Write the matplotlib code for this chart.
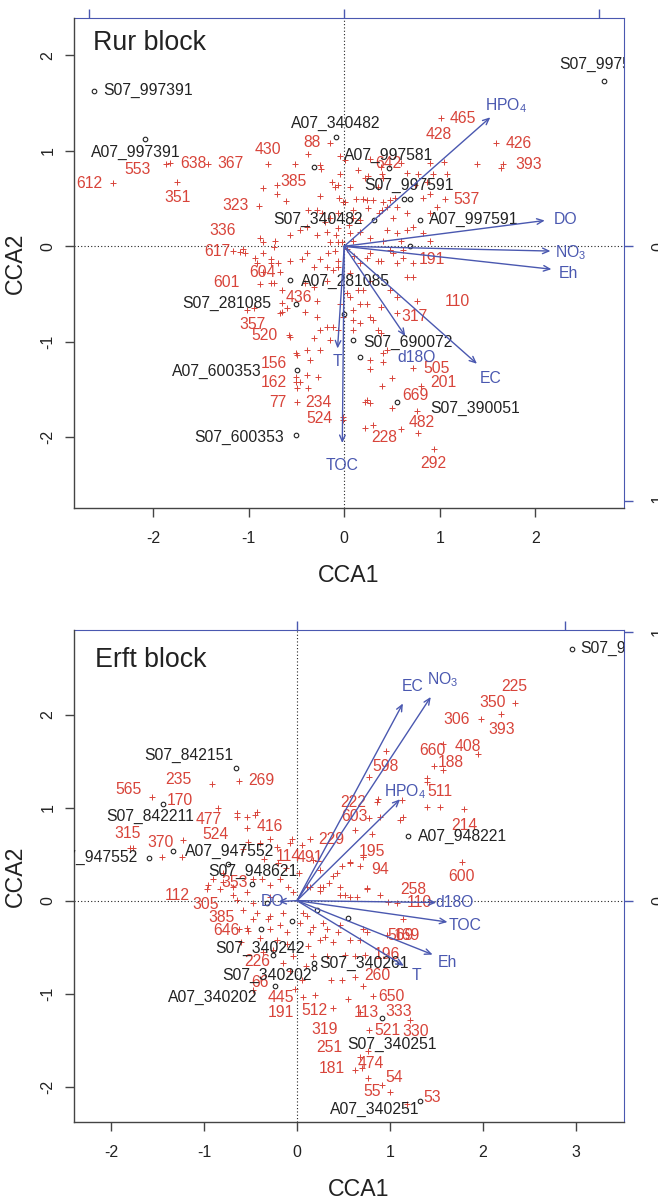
import matplotlib
matplotlib.use("Agg")
import matplotlib.pyplot as plt

plt.rcParams['font.family'] = ['Liberation Sans', 'DejaVu Sans']
plt.rcParams['mathtext.fontset'] = 'custom'
plt.rcParams['mathtext.rm'] = 'Liberation Sans'
plt.rcParams['mathtext.it'] = 'Liberation Sans:italic'
plt.rcParams['mathtext.bf'] = 'Liberation Sans:bold'

RED = '#d8443a'
BLUE = '#4a58b0'
DARK = '#222222'
AXC = '#444444'

# ------------------------------------------------------------------ Rur block
rur_plus = [
    (-2.42, 0.66), (-1.87, 0.86), (-1.82, 0.87), (-1.43, 0.86), (-1.75, 0.67), (-0.80, 0.86), (-0.52, 0.86),
    (-0.15, 1.08), (-0.04, 0.94), (-0.24, 0.81), (-0.85, 0.61), (-0.70, 0.55), (-0.61, 0.47), (-0.13, 0.67),
    (-0.10, 0.62), (-0.05, 0.51), (-0.01, 0.46), (-0.89, 0.42), (-0.39, 0.20), (-0.88, 0.09), (-0.85, 0.04),
    (-0.74, -0.01), (-1.16, -0.05), (-1.06, -0.03), (-1.04, -0.07), (-0.38, 0.97), (-0.25, 0.85), (-0.70, 0.64),
    (-0.25, 0.53), (0.01, 0.46), (-0.38, 0.38), (-0.28, 0.38), (-0.23, 0.35), (0.14, 0.80), (0.22, 0.72),
    (0.24, 0.48), (0.30, 0.48), (0.41, 0.46), (0.25, 0.40), (0.36, 0.35), (0.40, 0.76), (0.45, 0.41),
    (0.53, 0.51), (-0.72, 0.06), (-0.57, 0.12), (-0.46, 0.17), (-0.28, 0.12), (-0.18, 0.15), (-0.09, 0.12),
    (-0.06, 0.19), (-0.15, 0.04), (-0.07, 0.04), (-1.09, -0.06), (-0.93, -0.12), (-0.77, -0.13), (-0.69, -0.18),
    (-0.57, -0.15), (-0.44, -0.13), (-0.39, -0.07), (-0.25, -0.13), (-0.17, -0.07), (-0.07, -0.15), (-0.32, -0.22),
    (-0.18, -0.22), (0.09, 0.06), (0.17, 0.15), (0.27, 0.09), (0.24, -0.12), (0.35, -0.15), (0.45, 0.17),
    (0.48, -0.04), (0.55, -0.17), (0.17, 0.27), (0.09, 0.38), (1.01, 1.34), (1.59, 1.08), (1.66, 0.86),
    (1.64, 0.82), (1.39, 0.86), (0.27, 0.91), (0.25, 0.74), (0.38, 0.83), (0.59, 0.87), (0.66, 0.77),
    (0.77, 0.76), (0.90, 0.87), (1.04, 0.88), (1.08, 0.76), (0.93, 0.76), (0.87, 0.67), (0.74, 0.64),
    (0.90, 0.55), (0.82, 0.51), (1.06, 0.49), (0.97, 0.41), (0.90, 0.35), (0.41, 0.72), (0.35, 0.62),
    (0.20, 0.50), (0.48, 0.48), (0.55, 0.41), (0.40, 0.38), (0.51, 0.30), (0.66, 0.35), (0.72, 0.20),
    (0.66, 0.17), (0.55, 0.14), (0.41, 0.06), (0.59, 0.06), (0.83, 0.14), (0.90, 0.06), (0.51, -0.07),
    (0.62, -0.12), (0.72, -0.17), (0.38, -0.15), (0.27, -0.07), (0.06, 0.14), (-0.07, 0.35), (0.09, 0.30),
    (0.06, 0.62), (-0.07, 0.64), (0.01, 0.90), (-0.04, 0.76), (0.62, -0.04), (0.66, -0.32), (0.72, -0.32),
    (0.76, -0.57), (0.55, -0.70), (0.30, -0.77), (0.35, -0.88), (0.17, -0.80), (0.09, -0.88), (0.41, -1.12),
    (0.41, -1.21), (0.27, -1.28), (0.50, -1.38), (0.40, -1.46), (0.80, -1.46), (0.72, -1.27), (0.22, -1.63),
    (0.27, -1.64), (0.50, -1.69), (0.76, -1.72), (0.22, -1.90), (0.59, -1.91), (0.77, -1.96), (0.94, -2.12),
    (-0.01, -1.82), (-0.07, -0.22), (0.06, -0.28), (0.17, -0.18), (0.27, -0.36), (0.20, -0.46), (0.06, -0.53),
    (-0.04, -0.60), (0.09, -0.67), (0.24, -0.60), (0.38, -0.64), (0.48, -0.46), (0.55, -0.53), (-0.01, -0.74),
    (-0.07, -0.88), (-0.77, -0.18), (-0.85, -0.27), (-0.67, -0.27), (-0.77, -0.38), (-0.65, -0.46), (-0.41, -0.38),
    (-0.32, -0.43), (-0.18, -0.36), (-0.12, -0.25), (-0.28, -0.57), (-0.41, -0.69), (-0.28, -0.74), (-0.18, -0.85),
    (-0.25, -0.88), (-0.12, -0.85), (-0.15, -0.98), (-0.32, -0.96), (-0.39, -1.09), (-0.36, -1.19), (-0.25, -1.09),
    (-0.49, -1.14), (-0.57, -0.95), (-0.67, -0.70), (-0.60, -0.65), (-0.46, -1.42), (-0.49, -1.48), (-0.38, -1.48),
    (-0.49, -1.63), (-0.01, -1.79), (0.09, -0.77), (0.17, -0.60), (0.27, -0.74), (0.38, -0.91), (0.45, -1.09),
    (0.27, -1.19), (0.24, -1.61), (0.30, -1.87), (0.03, -0.49), (0.14, -0.46), (-0.85, -0.07), (-0.91, -0.18),
    (-0.74, -0.38), (-0.88, -0.39), (-1.02, -0.67), (-0.95, -0.65), (-0.65, -0.59), (-0.65, -0.69), (-0.58, -0.93),
    (-0.51, -1.12), (-0.51, -1.37), (-0.51, -1.42), (-0.39, -1.35), (-0.27, -1.37), (-0.02, 0.05), (0.03, -0.03),
    (-0.10, -0.05), (0.10, -0.10), (0.05, 0.22), (-0.20, 0.25), (0.12, 0.50), (-0.15, 0.30),
]
rur_sp_names = ['612', '553', '638', '367', '351', '430', '88', '385', '323', '336', '617', '601', '604',
                '436', '357', '520', '156', '162', '77', '234', '524', '465', '428', '426', '393', '642',
                '537', '191', '110', '317', '505', '201', '669', '482', '228', '292']
rur_sp_x = [-2.67, -2.16, -1.58, -1.19, -1.75, -0.80, -0.34, -0.53, -1.14, -1.27, -1.33, -1.23, -0.86,
            -0.47, -0.96, -0.83, -0.74, -0.74, -0.69, -0.27, -0.26, 1.24, 0.99, 1.83, 1.93, 0.46,
            1.28, 0.92, 1.18, 0.74, 0.97, 1.04, 0.75, 0.81, 0.42, 0.93]
rur_sp_y = [0.66, 0.80, 0.87, 0.87, 0.51, 1.01, 1.09, 0.68, 0.43, 0.17, -0.05, -0.38, -0.27,
            -0.54, -0.82, -0.93, -1.23, -1.43, -1.64, -1.64, -1.80, 1.34, 1.17, 1.08, 0.86, 0.87,
            0.49, -0.14, -0.58, -0.73, -1.28, -1.43, -1.56, -1.85, -2.00, -2.27]

rur_site_x = [-2.62, -2.09, -0.09, -0.32, 0.47, 0.63, 0.69, 0.31, 0.79, 0.69, 2.72, -0.57, -0.51,
              0.00, 0.09, 0.16, -0.49, 0.55, -0.51]
rur_site_y = [1.63, 1.12, 1.14, 0.83, 0.82, 0.49, 0.49, 0.28, 0.28, 0.00, 1.73, -0.35, -0.60,
              -0.71, -0.98, -1.16, -1.29, -1.63, -1.98]
rur_sitelab_names = ['S07_997391', 'A07_997391', 'A07_340482', 'A07_997581', 'S07_997591', 'S07_340482',
                     'A07_997591', 'S07_997581', 'A07_281085', 'S07_281085', 'S07_690072', 'A07_600353',
                     'S07_390051', 'S07_600353']
rur_sitelab_x = [-2.05, -2.18, -0.09, 0.46, 0.68, -0.27, 1.36, 2.72, 0.01, -1.23, 0.67, -1.33, 1.37, -1.10]
rur_sitelab_y = [1.63, 0.98, 1.29, 0.95, 0.64, 0.28, 0.28, 1.90, -0.37, -0.60, -1.01, -1.31, -1.70, -2.00]

rur_env_names = ['HPO$_{4}$', 'DO', 'NO$_{3}$', 'Eh', 'EC', 'd18O', 'T', 'TOC']
rur_env_x = [1.53, 2.10, 2.16, 2.17, 1.39, 0.64, -0.07, -0.02]
rur_env_y = [1.35, 0.27, -0.05, -0.24, -1.23, -0.94, -1.07, -2.06]
rur_envlab_x = [1.69, 2.32, 2.37, 2.35, 1.53, 0.76, -0.07, -0.02]
rur_envlab_y = [1.47, 0.28, -0.07, -0.28, -1.38, -1.16, -1.21, -2.29]

# ------------------------------------------------------------------ Erft block
erft_plus = [
    (-0.92, 1.25), (-0.62, 1.29), (-1.56, 1.11), (-0.85, 1.00), (-0.65, 0.90), (-0.54, 0.90), (-0.45, 0.92),
    (-0.54, 0.78), (-1.23, 0.65), (-1.80, 0.57), (-1.76, 0.57), (-1.45, 0.47), (-1.24, 0.47), (-0.05, 0.66),
    (0.05, 0.60), (0.14, 0.66), (-0.65, 0.94), (-0.43, 0.95), (-0.53, 0.63), (-0.40, 0.62), (-0.29, 0.66),
    (-0.22, 0.58), (-0.08, 0.62), (-0.58, 0.55), (-0.80, 0.30), (-0.90, 0.23), (-0.96, 0.17), (-0.83, 0.12),
    (-0.69, 0.06), (-0.54, 0.09), (-0.38, 0.23), (-0.29, 0.17), (-0.18, 0.23), (-0.10, 0.15), (-0.04, 0.09),
    (-0.29, 0.04), (-0.47, -0.02), (-0.58, -0.10), (-0.43, -0.13), (-0.29, -0.17), (-0.15, -0.13), (-0.18, -0.26),
    (-0.29, -0.31), (-0.54, -0.29), (-0.47, -0.20), (-0.11, -0.34), (0.03, -0.24), (0.14, -0.34), (0.28, -0.24),
    (0.06, -0.13), (-0.62, -0.31), (-0.53, -0.33), (-0.26, -0.53), (-0.11, -0.47), (-0.04, -0.60), (-0.15, -0.67),
    (-0.08, -0.76), (-0.47, -0.96), (0.06, -1.04), (0.19, -1.01), (-0.37, -0.55), (-0.31, -0.20), (-0.69, 0.15),
    (-0.47, 0.23), (-0.65, 0.01), (-0.97, 0.12), (-0.80, 0.20), (0.17, -0.28), (0.25, -0.42), (0.12, -0.49),
    (0.17, -0.60), (0.14, 0.15), (0.28, 0.15), (0.46, 0.06), (0.57, 0.04), (0.75, 0.12), (0.89, 0.06),
    (1.08, -0.03), (0.98, -0.01), (1.14, -0.20), (0.30, -0.39), (0.44, -0.34), (0.57, -0.42), (0.68, -0.42),
    (0.71, -0.31), (0.97, -0.37), (0.32, -0.60), (0.52, -0.58), (0.62, -0.60), (0.73, -0.58), (0.62, -0.82),
    (0.37, -0.85), (0.48, -0.85), (0.71, -0.92), (0.82, -1.03), (0.55, -1.06), (0.39, -1.15), (0.68, -1.20),
    (1.22, -1.28), (0.78, -1.39), (0.76, -1.62), (0.68, -1.68), (0.62, -1.82), (0.70, -1.80), (0.76, -1.91),
    (0.92, -1.98), (1.00, -2.06), (1.18, -2.19), (0.96, 1.61), (0.78, 1.33), (0.87, 1.09), (0.89, 0.90),
    (0.77, 0.89), (0.62, 0.76), (0.81, 0.72), (0.71, 0.47), (0.57, 0.42), (0.68, 0.37), (0.49, 0.37),
    (0.43, 0.30), (0.35, 0.19), (0.25, 0.15), (0.75, 0.14), (0.52, 0.06), (1.40, 1.32), (1.40, 1.28),
    (1.40, 1.01), (1.54, 1.01), (1.80, 0.99), (1.78, 0.42), (1.95, 1.58), (1.47, 1.45), (1.57, 1.40),
    (1.57, 1.68), (1.98, 1.95), (2.20, 2.01), (2.35, 2.13), (1.13, 1.08), (1.11, 0.87), (1.14, 0.90),
    (0.86, 1.06), (0.17, 0.44), (0.25, 0.33), (0.39, 0.26), (0.57, 0.41), (0.46, 0.15), (0.11, 0.15),
    (0.25, 0.10), (0.65, 0.04), (0.11, -0.17), (0.32, -0.31), (0.46, -0.26), (0.39, -0.44), (0.75, -0.34),
    (-0.20, 0.40), (-0.35, 0.45), (-0.12, 0.35), (0.02, 0.30), (-0.60, -0.45), (-0.40, -0.40), (-0.22, -0.42),
    (0.05, -0.85), (-0.02, -0.95), (0.10, -0.70),
]
erft_sp_names = ['235', '269', '565', '170', '477', '416', '315', '370', '524', '114', '491', '353', '112',
                 '305', '385', '646', '226', '66', '445', '191', '512', '319', '251', '181', '474', '54',
                 '55', '53', '650', '113', '333', '521', '330', '260', '196', '569', '169', '258', '110',
                 '600', '94', '195', '229', '603', '222', '598', '511', '214', '188', '660', '408', '306',
                 '393', '350', '225']
erft_sp_x = [-1.28, -0.38, -1.81, -1.26, -0.95, -0.29, -1.82, -1.47, -0.88, -0.09, 0.14, -0.67, -1.29,
             -0.98, -0.81, -0.76, -0.43, -0.40, -0.17, -0.17, 0.19, 0.30, 0.35, 0.38, 0.80, 1.05,
             0.81, 1.46, 1.02, 0.75, 1.09, 0.97, 1.28, 0.87, 0.97, 1.11, 1.18, 1.25, 1.32,
             1.77, 0.89, 0.81, 0.37, 0.62, 0.60, 0.95, 1.54, 1.80, 1.65, 1.46, 1.84, 1.72,
             2.20, 2.11, 2.34]
erft_sp_y = [1.30, 1.29, 1.19, 1.08, 0.87, 0.80, 0.72, 0.63, 0.71, 0.47, 0.46, 0.20, 0.06,
             -0.04, -0.18, -0.32, -0.65, -0.88, -1.04, -1.20, -1.18, -1.39, -1.58, -1.81, -1.75, -1.90,
             -2.05, -2.12, -1.03, -1.20, -1.19, -1.40, -1.41, -0.81, -0.58, -0.37, -0.37, 0.12, -0.02,
             0.26, 0.34, 0.53, 0.66, 0.90, 1.06, 1.44, 1.17, 0.81, 1.48, 1.61, 1.66, 1.95,
             1.84, 2.13, 2.30]

erft_site_x = [2.96, -0.66, -1.44, -1.33, -1.59, -0.74, -0.48, -0.32, -0.05, -0.39, 0.22, 0.55,
               -0.26, 0.18, 0.18, -0.24, 1.19, 0.91, 1.32]
erft_site_y = [2.71, 1.43, 1.04, 0.53, 0.46, 0.39, 0.18, -0.03, -0.22, -0.31, -0.10, -0.19,
               -0.58, -0.67, -0.72, -0.92, 0.69, -1.26, -2.15]
erft_sitelab_names = ['S07_948221', 'S07_842151', 'S07_842211', 'A07_947552', 'S07_947552', 'S07_948621',
                      'S07_340242', 'S07_340202', 'S07_340261', 'A07_340202', 'A07_948221', 'S07_340251',
                      'A07_340251']
erft_sitelab_x = [3.53, -1.16, -1.58, -0.73, -2.20, -0.48, -0.40, -0.32, 0.72, -0.91, 1.78, 1.02, 0.84]
erft_sitelab_y = [2.71, 1.56, 0.91, 0.53, 0.46, 0.31, -0.51, -0.80, -0.67, -1.04, 0.69, -1.55, -2.25]

erft_env_names = ['EC', 'NO$_{3}$', 'HPO$_{4}$', 'd18O', 'TOC', 'Eh', 'T', 'DO']
erft_env_x = [1.14, 1.44, 1.11, 1.50, 1.62, 1.46, 1.15, -0.20]
erft_env_y = [2.12, 2.19, 1.09, -0.02, -0.23, -0.58, -0.70, -0.01]
erft_envlab_x = [1.25, 1.57, 1.16, 1.70, 1.81, 1.62, 1.29, -0.26]
erft_envlab_y = [2.30, 2.38, 1.17, -0.02, -0.27, -0.67, -0.80, -0.01]

FS = 11.3


def draw_panel(ax, title, title_pos, xlim, ylim, xticks, yticks, k, top_ticks, right_ticks,
               plus, sp_names, sp_x, sp_y, site_x, site_y, lab_names, lab_x, lab_y,
               env_names, env_x, env_y, envlab_x, envlab_y, xlab_pos):
    ax.set_xlim(*xlim)
    ax.set_ylim(*ylim)
    ax.axhline(0, color=DARK, ls=(0, (1, 2)), lw=0.8, zorder=1)
    ax.axvline(0, color=DARK, ls=(0, (1, 2)), lw=0.8, zorder=1)

    px = [p[0] for p in plus]
    py = [p[1] for p in plus]
    ax.plot(px, py, ls='none', marker='+', ms=5, mew=0.7, color=RED, zorder=2)
    for n, x, y in zip(sp_names, sp_x, sp_y):
        ax.text(x, y, n, color=RED, ha='center', va='center', fontsize=FS, clip_on=True, zorder=3)

    ax.plot(site_x, site_y, ls='none', marker='o', ms=3.3, mfc='none', mec=DARK, mew=0.8, zorder=4)
    for n, x, y in zip(lab_names, lab_x, lab_y):
        ax.text(x, y, n, color=DARK, ha='center', va='center', fontsize=FS, clip_on=True, zorder=5)

    for n, x, y, lx, ly in zip(env_names, env_x, env_y, envlab_x, envlab_y):
        ax.annotate('', xy=(x, y), xytext=(0, 0),
                    arrowprops=dict(arrowstyle='->,head_length=0.45,head_width=0.2', color=BLUE, lw=1.0,
                                    shrinkA=0, shrinkB=0), zorder=6)
        ax.text(lx, ly, n, color=BLUE, ha='center', va='center', fontsize=FS, clip_on=True, zorder=6)

    ax.text(title_pos[0], title_pos[1], title, transform=ax.transAxes, fontsize=19.3, color=DARK,
            ha='left', va='center')

    for s in ['left', 'bottom']:
        ax.spines[s].set_color(AXC)
        ax.spines[s].set_linewidth(1.0)
    ax.spines['top'].set_visible(False)
    ax.spines['right'].set_visible(False)
    ax.set_xticks(xticks)
    ax.set_yticks(yticks)
    ax.set_xticklabels([str(t) for t in xticks])
    ax.set_yticklabels([str(t) for t in yticks])
    ax.tick_params(axis='both', colors=AXC, labelcolor=DARK, length=6.5, width=1.0, labelsize=11.5)
    ax.tick_params(axis='x', pad=10)
    ax.tick_params(axis='y', pad=7, labelrotation=90)
    for lab in ax.get_yticklabels():
        lab.set_va('center')

    ax.set_xlabel('CCA1', fontsize=16.7, color=DARK)
    ax.set_ylabel('CCA2', fontsize=16.7, color=DARK)
    ax.xaxis.set_label_coords(xlab_pos, -0.137)
    ax.xaxis.label.set_va('center')
    ax.yaxis.set_label_coords(-0.107, 0.5)
    ax.yaxis.label.set_va('center')

    secx = ax.secondary_xaxis('top', functions=(lambda v: v / k, lambda v: v * k))
    secx.set_xticks(top_ticks)
    secx.spines['top'].set_color(BLUE)
    secx.tick_params(colors=BLUE, length=6.5, width=1.0, labeltop=False)
    secy = ax.secondary_yaxis('right', functions=(lambda v: v / k, lambda v: v * k))
    secy.set_yticks(right_ticks)
    secy.set_yticklabels([str(t) for t in right_ticks])
    secy.spines['right'].set_color(BLUE)
    secy.tick_params(colors=BLUE, labelcolor=DARK, length=6.5, width=1.0, labelsize=11.5, pad=13,
                     labelrotation=90)
    for lab in secy.get_yticklabels():
        lab.set_va('center')


fig = plt.figure(figsize=(6.58, 12), dpi=100)
ax1 = fig.add_axes([74 / 658, 1 - 508 / 1200, 550 / 658, 490 / 1200])
ax2 = fig.add_axes([74 / 658, 1 - 1122 / 1200, 550 / 658, 492 / 1200])

draw_panel(ax1, 'Rur block', (0.0345, 0.949), (-2.83, 2.93), (-2.74, 2.39),
           [-2, -1, 0, 1, 2], [-2, -1, 0, 1, 2], 2.67, [-1, 0, 1], [-1, 0],
           rur_plus, rur_sp_names, rur_sp_x, rur_sp_y, rur_site_x, rur_site_y,
           rur_sitelab_names, rur_sitelab_x, rur_sitelab_y,
           rur_env_names, rur_env_x, rur_env_y, rur_envlab_x, rur_envlab_y, 0.5)

draw_panel(ax2, 'Erft block', (0.038, 0.939), (-2.40, 3.52), (-2.38, 2.91),
           [-2, -1, 0, 1, 2, 3], [-2, -1, 0, 1, 2], 2.89, [0, 1], [0, 1],
           erft_plus, erft_sp_names, erft_sp_x, erft_sp_y, erft_site_x, erft_site_y,
           erft_sitelab_names, erft_sitelab_x, erft_sitelab_y,
           erft_env_names, erft_env_x, erft_env_y, erft_envlab_x, erft_envlab_y, 0.518)

fig.savefig('out.png', dpi=100)
